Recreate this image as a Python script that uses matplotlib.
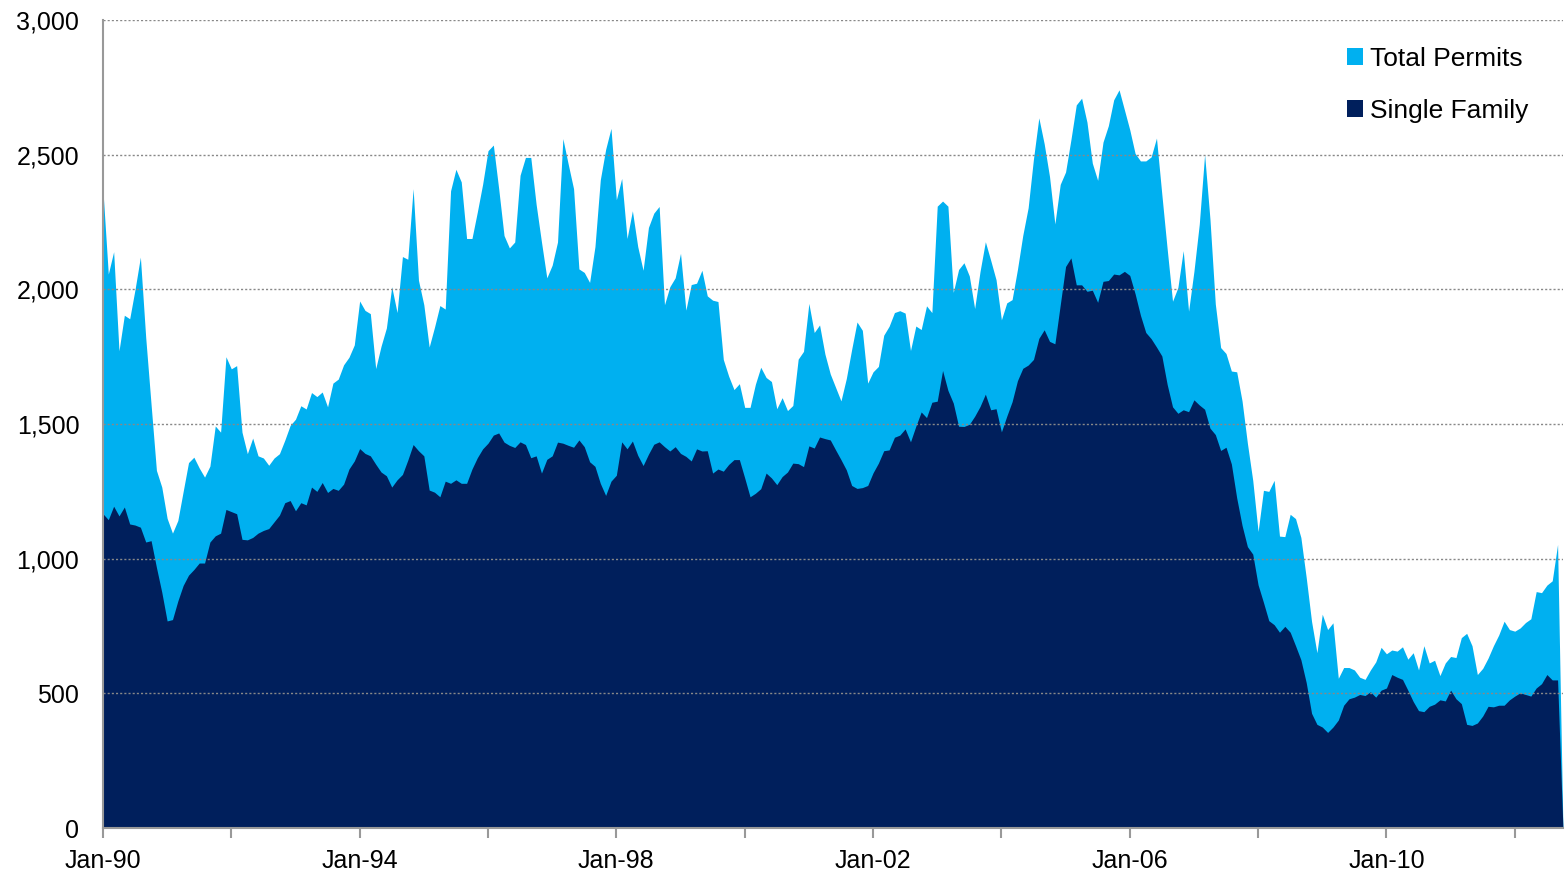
import matplotlib
matplotlib.use("Agg")
import matplotlib.pyplot as plt
import numpy as np

plt.rcParams['font.family'] = ['Liberation Sans', 'DejaVu Sans']

# Monthly building permits (thousands, SAAR), Jan-1990 onward
total_permits = [
    2368, 2057, 2140, 1772, 1904, 1891, 2000, 2120, 1821, 1573, 1328, 1266,
    1150, 1095, 1142, 1250, 1357, 1377, 1337, 1303, 1344, 1493, 1470, 1750,
    1705, 1717, 1470, 1390, 1448, 1382, 1374, 1347, 1374, 1390, 1440, 1495,
    1518, 1568, 1556, 1617, 1602, 1619, 1564, 1652, 1667, 1720, 1748, 1794,
    1957, 1922, 1910, 1706, 1789, 1857, 2010, 1914, 2122, 2112, 2374, 2034,
    1943, 1786, 1860, 1940, 1927, 2366, 2446, 2399, 2189, 2189, 2287, 2391,
    2515, 2536, 2374, 2200, 2154, 2176, 2424, 2490, 2490, 2316, 2176, 2043,
    2090, 2176, 2560, 2465, 2374, 2076, 2063, 2026, 2159, 2407, 2520, 2598,
    2333, 2412, 2189, 2292, 2159, 2071, 2230, 2283, 2308, 1943, 2010, 2043,
    2134, 1923, 2018, 2023, 2071, 1976, 1960, 1955, 1740, 1678, 1628, 1650,
    1562, 1562, 1648, 1711, 1673, 1658, 1557, 1598, 1550, 1569, 1741, 1770,
    1948, 1840, 1868, 1760, 1686, 1636, 1586, 1669, 1777, 1879, 1848, 1652,
    1694, 1714, 1830, 1863, 1914, 1921, 1912, 1773, 1864, 1851, 1939, 1914,
    2309, 2328, 2309, 1989, 2074, 2099, 2050, 1929, 2066, 2177, 2108, 2036,
    1887, 1950, 1962, 2074, 2201, 2303, 2485, 2637, 2541, 2419, 2243, 2390,
    2436, 2556, 2685, 2710, 2621, 2469, 2405, 2547, 2608, 2704, 2741, 2667,
    2593, 2505, 2477, 2477, 2492, 2562, 2353, 2150, 1956, 2007, 2144, 1919,
    2067, 2242, 2501, 2261, 1946, 1784, 1762, 1697, 1694, 1586, 1429, 1291,
    1101, 1254, 1250, 1291, 1084, 1082, 1165, 1149, 1079, 930, 767, 651,
    794, 737, 762, 556, 596, 596, 587, 560, 552, 587, 617, 671,
    647, 661, 657, 673, 627, 651, 587, 677, 613, 623, 566, 613,
    637, 633, 707, 723, 677, 570, 593, 631, 677, 717, 768, 737,
    731, 743, 763, 777, 878, 874, 902, 918, 1053, 0,
]

single_family = [
    1167, 1145, 1195, 1159, 1192, 1129, 1125, 1117, 1062, 1067, 968, 876,
    769, 774, 843, 901, 939, 960, 984, 984, 1062, 1085, 1095, 1183,
    1175, 1167, 1072, 1070, 1079, 1095, 1105, 1112, 1137, 1162, 1208, 1216,
    1178, 1208, 1200, 1266, 1250, 1283, 1246, 1261, 1254, 1277, 1333, 1363,
    1409, 1391, 1382, 1351, 1322, 1308, 1266, 1293, 1313, 1366, 1424, 1401,
    1382, 1255, 1247, 1230, 1288, 1280, 1293, 1280, 1280, 1333, 1375, 1408,
    1429, 1459, 1467, 1433, 1421, 1413, 1434, 1424, 1375, 1382, 1318, 1369,
    1382, 1433, 1429, 1421, 1414, 1441, 1416, 1360, 1343, 1280, 1235, 1288,
    1310, 1434, 1408, 1437, 1384, 1346, 1388, 1425, 1434, 1416, 1400, 1416,
    1391, 1380, 1363, 1408, 1400, 1401, 1318, 1333, 1325, 1350, 1368, 1368,
    1300, 1230, 1243, 1260, 1318, 1300, 1275, 1305, 1322, 1355, 1353, 1342,
    1419, 1411, 1452, 1446, 1441, 1404, 1368, 1330, 1272, 1261, 1264, 1272,
    1319, 1355, 1401, 1404, 1451, 1459, 1482, 1434, 1492, 1545, 1524, 1581,
    1585, 1699, 1625, 1578, 1492, 1491, 1499, 1529, 1565, 1611, 1553, 1557,
    1471, 1529, 1583, 1661, 1707, 1719, 1740, 1818, 1850, 1807, 1798, 1942,
    2085, 2117, 2017, 2017, 1993, 1997, 1952, 2030, 2033, 2057, 2054, 2067,
    2052, 1984, 1904, 1840, 1817, 1786, 1753, 1647, 1564, 1540, 1553, 1546,
    1590, 1571, 1555, 1485, 1461, 1402, 1414, 1352, 1226, 1124, 1045, 1017,
    903, 838, 770, 755, 727, 749, 727, 677, 625, 540, 426, 385,
    375, 355, 375, 401, 456, 480, 486, 496, 492, 506, 486, 512,
    520, 570, 560, 552, 512, 470, 436, 432, 452, 460, 476, 472,
    512, 480, 462, 385, 381, 390, 416, 452, 450, 456, 456, 476,
    490, 502, 496, 490, 520, 536, 570, 550, 550, 0,
]

year_labels = ["Jan-90", "Jan-94", "Jan-98", "Jan-02", "Jan-06", "Jan-10"]
y_ticks = [0, 500, 1000, 1500, 2000, 2500, 3000]

months = np.arange(len(total_permits))

fig = plt.figure(figsize=(15.67, 8.73), dpi=100)
ax = fig.add_axes([0.0657, 0.0515, 0.9317, 0.9255])

ax.fill_between(months, 0, total_permits, color="#00B0F0", linewidth=0,
                label="Total Permits")
ax.fill_between(months, 0, single_family, color="#001F5C", linewidth=0,
                label="Single Family")

ax.set_xlim(0, len(total_permits) - 1)
ax.set_ylim(0, 3000)

# labelled ticks every four years, unlabelled ones in between
ax.set_xticks(np.arange(len(year_labels)) * 48)
ax.set_xticklabels(year_labels)
ax.set_xticks(np.arange(24, len(total_permits), 48), minor=True)
ax.tick_params(axis="x", which="both", direction="out", length=7, width=1.5,
               color="#999999", labelsize=18, pad=8)

ax.set_yticks(y_ticks)
ax.set_yticklabels([f"{v:,}" for v in y_ticks])
ax.tick_params(axis="y", length=0, labelsize=18, pad=17)

ax.yaxis.grid(True, linestyle=(0, (1.5, 1.5)), color="#888888", linewidth=1)
for line in ax.get_ygridlines():
    line.set_zorder(0.5)

for side in ("top", "right"):
    ax.spines[side].set_visible(False)
for side in ("left", "bottom"):
    ax.spines[side].set_color("#999999")
    ax.spines[side].set_linewidth(1.5)
    ax.spines[side].set_zorder(3)

leg = ax.legend(loc="upper right", bbox_to_anchor=(1528 / 1567, 1 - 47 / 873),
                bbox_transform=fig.transFigure, borderaxespad=0, borderpad=0,
                frameon=False, fontsize=19, handlelength=0.62,
                handleheight=0.62, handletextpad=0.25, labelspacing=1.05)

fig.savefig("out.png", dpi=100)
